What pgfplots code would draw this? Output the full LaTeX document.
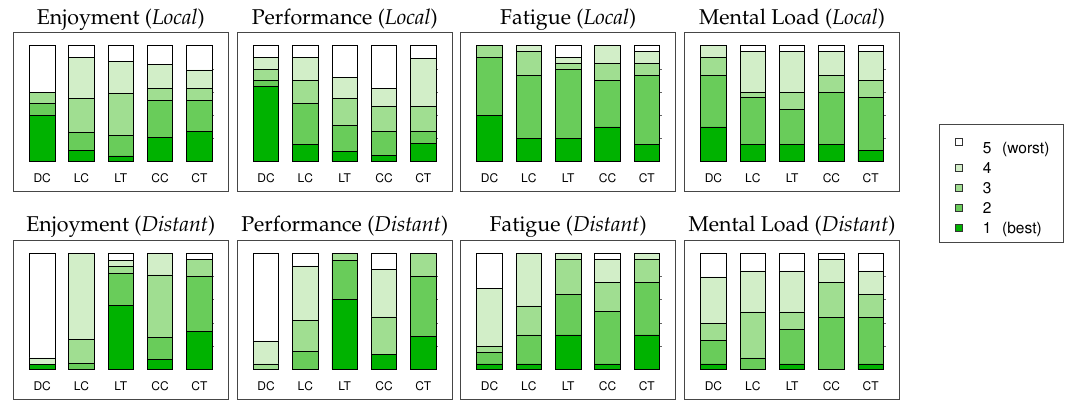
\documentclass[border=0pt]{standalone}
\usepackage[T1]{fontenc}
\usepackage{mathpazo}
\usepackage{helvet}
\usepackage{pgfplots}
\usepackage{pgfplotstable}
\pgfplotsset{compat=1.18}

\definecolor{c1}{RGB}{0,178,0}
\definecolor{c2}{RGB}{105,204,90}
\definecolor{c3}{RGB}{160,222,145}
\definecolor{c4}{RGB}{210,238,200}
\definecolor{c5}{RGB}{255,255,255}
\definecolor{framecol}{RGB}{70,70,70}

\pgfplotstableread{
x a b c d e
0 39.5 10.4 9.8 0 40.3
1 9.2 15.6 29.7 35.4 10.1
2 4.6 17.9 36.3 27.4 13.8
3 21.0 31.7 10.1 21.3 15.9
4 25.9 26.8 10.1 16.2 21.0
}\EL
\pgfplotstableread{
x a b c d e
0 64.8 5.2 9.8 10.1 10.1
1 14.7 35.2 20.1 19.9 10.1
2 8.9 22.2 23.4 18.1 27.4
3 5.2 21.0 21.1 15.8 36.9
4 15.6 10.6 21.1 41.7 11.0
}\PL
\pgfplotstableread{
x a b c d e
0 39.8 50.1 10.1 0 0
1 19.9 54.7 20.2 5.2 0
2 19.9 59.9 5.2 4.9 10.1
3 29.7 40.3 15.0 15.0 0
4 14.7 59.9 10.4 9.8 5.2
}\FL
\pgfplotstableread{
x a b c d e
0 29.7 44.9 15.3 10.1 0
1 14.7 40.3 4.9 34.9 5.2
2 14.7 30.3 14.9 34.9 5.2
3 14.7 45.2 14.7 20.2 5.2
4 9.5 45.5 15.0 24.8 5.2
}\ML
\pgfplotstableread{
x a b c d e
0 4.3 0 0 5.5 90.2
1 0 5.2 20.9 73.9 0
2 55.2 27.6 5.7 5.5 6.0
3 8.6 18.7 54.0 18.7 0
4 32.8 47.4 14.6 0 5.2
}\ED
\pgfplotstableread{
x a b c d e
0 0 0 4.6 19.8 75.6
1 0 15.5 26.5 47.1 10.9
2 60.6 33.4 6.0 0 0
3 12.9 0 32.2 40.8 14.1
4 28.4 51.8 19.8 0 0
}\PD
\pgfplotstableread{
x a b c d e
0 4.6 10.1 4.8 50.3 30.2
1 4.6 25.0 25.0 45.4 0
2 29.6 35.1 30.1 5.2 0
3 4.6 45.1 25.0 20.1 5.2
4 29.6 45.1 20.1 5.2 0
}\FD
\pgfplotstableread{
x a b c d e
0 4.6 20.1 15.0 39.9 20.4
1 0 9.8 39.6 35.4 15.2
2 4.6 29.9 14.9 35.4 15.2
3 0 44.8 29.9 20.1 5.2
4 4.6 40.2 19.9 20.1 15.2
}\MD

\pgfplotsset{
  panelstyle/.style={
    anchor=south west, scale only axis, width=182.8pt,
    ybar stacked, bar width=0.65,
    xmin=-0.325, xmax=4.325, ymin=0, ymax=100,
    clip=false,
    axis line style={draw=none},
    xtick={0,1,2,3,4}, xticklabels={DC,LC,LT,CC,CT},
    x tick style={draw=none},
    xticklabel style={font=\fontsize{12}{14}\sffamily, anchor=base, yshift=-19.2pt},
    ytick={20,40,60,80}, yticklabels={},
    ytick pos=right, tick align=outside, major tick length=2pt,
    y tick style={black!60, line width=0.6pt},
    every axis plot/.append style={draw=black, line width=0.8pt},
    legend image code/.code={\path[draw=none,fill=none] (0pt,0pt) -- (4pt,0pt); \draw[##1, draw=black!80, line width=0.6pt] (4pt,-2.5pt) rectangle (11pt,4.5pt);},
  }
}

\newcommand{\panel}[6]{%
  \begin{axis}[panelstyle, at={(#1pt,#2pt)}, height=#3pt, #6]
    \addplot[fill=c1] table[x=x,y=a] {#4};
    \addplot[fill=c2] table[x=x,y=b] {#4};
    \addplot[fill=c3] table[x=x,y=c] {#4};
    \addplot[fill=c4] table[x=x,y=d] {#4};
    \addplot[fill=c5] table[x=x,y=e] {#4};
  \end{axis}
  \draw[framecol, line width=1.1pt] ({#1-16},{#2-29.8}) rectangle ({#1+182.8+16},{#2+#3+13});
  \node[anchor=base, inner sep=0pt, font=\fontsize{21.4}{24}\selectfont] at ({#1+91.4},{#2+#3+21.4}) {#5};
}

\begin{document}
\begin{tikzpicture}[x=1pt,y=1pt]
\path[use as bounding box] (0,0) rectangle (1072,401);
\panel{29.4}{239.7}{115.6}{\EL}{Enjoyment (\textit{Local})}{}
\panel{253.3}{239.7}{115.6}{\PL}{Performance (\textit{Local})}{}
\panel{476.8}{239.7}{115.6}{\FL}{Fatigue (\textit{Local})}{}
\panel{700.7}{239.7}{115.6}{\ML}{Mental Load (\textit{Local})}{%
  legend style={at={(1.3036,0.3227)}, anchor=north west, draw=framecol, line width=0.9pt,
    font=\fontsize{15.5}{17}\sffamily, legend cell align=left, row sep=3.5pt,
    inner xsep=12pt, inner ysep=5pt,
    /tikz/every odd column/.append style={column sep=18pt}},
  reverse legend,
  legend entries={1\hspace{0.7em}(best),2,3,4,\rule{0pt}{22pt}5\hspace{0.7em}(worst)}}
\panel{29.4}{31.7}{116}{\ED}{Enjoyment (\textit{Distant})}{}
\panel{253.3}{31.7}{116}{\PD}{Performance (\textit{Distant})}{}
\panel{476.8}{31.7}{116}{\FD}{Fatigue (\textit{Distant})}{}
\panel{700.7}{31.7}{116}{\MD}{Mental Load (\textit{Distant})}{}
\end{tikzpicture}
\end{document}
